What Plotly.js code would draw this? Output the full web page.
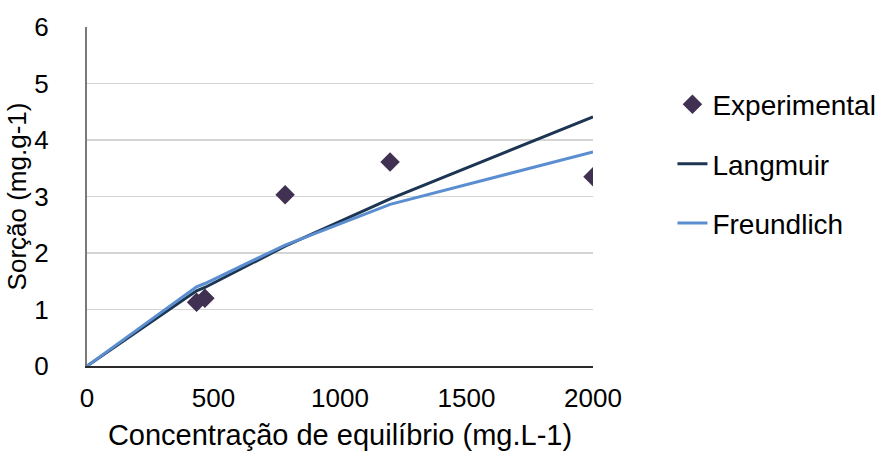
<!DOCTYPE html>
<html>
<head>
<meta charset="utf-8">
<script src="https://cdn.plot.ly/plotly-3.0.1.min.js"></script>
<style>html,body{margin:0;padding:0;background:#fff}#chart{width:882px;height:453px}</style>
</head>
<body>
<div id="chart"></div>
<script>
const expX = [433, 466, 783, 1198, 2000];
const expY = [1.13, 1.20, 3.03, 3.61, 3.35];
const modelX = [0, 433, 466, 783, 1198, 2000];
const langmuirY = [0, 1.33, 1.39, 2.12, 2.96, 4.41];
const freundlichY = [0, 1.40, 1.46, 2.14, 2.86, 3.79];
const xTicks = [0, 500, 1000, 1500, 2000];
const yTicks = [0, 1, 2, 3, 4, 5, 6];

const FONT = 'Liberation Sans, Arial, sans-serif';

const traces = [
  {x: expX, y: expY, name: 'Experimental', mode: 'markers', type: 'scatter',
   legendgroup: 'a',
   marker: {symbol: 'diamond', size: 15, color: '#403152'}},
  {x: modelX, y: langmuirY, name: 'Langmuir', mode: 'lines', type: 'scatter',
   legendgroup: 'b',
   line: {color: '#1B3552', width: 3}},
  {x: modelX, y: freundlichY, name: 'Freundlich', mode: 'lines', type: 'scatter',
   legendgroup: 'c',
   line: {color: '#5B8ED0', width: 3}}
];

const layout = {
  width: 882, height: 453,
  margin: {l: 87, r: 289, t: 27, b: 87, autoexpand: false},
  paper_bgcolor: '#fff', plot_bgcolor: '#fff',
  font: {family: FONT, color: '#000'},
  showlegend: true,
  legend: {x: 1.157, xanchor: 'left', y: 0.845, yanchor: 'top',
           font: {family: FONT, size: 28, color: '#000'},
           tracegroupgap: 20, bgcolor: 'rgba(0,0,0,0)'},
  xaxis: {range: [0, 2000], tickvals: xTicks, ticktext: xTicks.map(String),
          showgrid: false, zeroline: false, showline: true, automargin: false,
          linecolor: '#2a2a2a', linewidth: 2, ticks: '',
          ticklabelstandoff: 8,
          tickfont: {family: FONT, size: 26, color: '#000'},
          title: {text: 'Concentração de equilíbrio (mg.L-1)', standoff: 12,
                  font: {family: FONT, size: 29, color: '#000'}}},
  yaxis: {range: [0, 6], tickvals: yTicks, ticktext: yTicks.map(String),
          showgrid: true, gridcolor: '#D4D4D4', gridwidth: 1.5,
          zeroline: false, showline: true, automargin: false,
          linecolor: '#7a7a7a', linewidth: 2, ticks: '',
          ticklabelstandoff: 31,
          tickfont: {family: FONT, size: 26, color: '#000'},
          title: {text: 'Sorção (mg.g-1)', standoff: 0,
                  font: {family: FONT, size: 26, color: '#000'}}}
};

Plotly.newPlot('chart', traces, layout, {displayModeBar: false, staticPlot: true});
</script>
</body>
</html>
